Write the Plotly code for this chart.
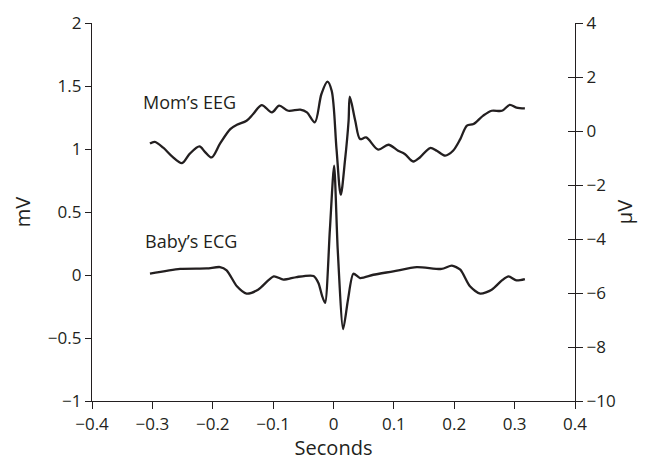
import plotly.graph_objects as go

# Time axis (seconds) and traces
eeg_t = [-0.304, -0.296, -0.282, -0.267, -0.251, -0.238, -0.222, -0.213, -0.202, -0.188,
         -0.171, -0.160, -0.144, -0.133, -0.119, -0.102, -0.090, -0.075, -0.055, -0.044,
         -0.031, -0.020, -0.010, -0.003, 0.005, 0.012, 0.019, 0.025, 0.027, 0.036,
         0.044, 0.054, 0.074, 0.091, 0.107, 0.118, 0.132, 0.143, 0.160, 0.171,
         0.185, 0.198, 0.210, 0.221, 0.232, 0.248, 0.262, 0.279, 0.292, 0.303, 0.317]
# Mom's EEG, microvolts (right axis)
eeg_uv = [-0.46, -0.40, -0.62, -0.95, -1.19, -0.84, -0.57, -0.77, -0.98, -0.47,
          0.07, 0.23, 0.38, 0.63, 0.96, 0.69, 0.94, 0.75, 0.79, 0.69,
          0.32, 1.37, 1.83, 1.49, -0.67, -2.36, -1.10, 0.38, 1.27, 0.38,
          -0.30, -0.24, -0.69, -0.51, -0.73, -0.85, -1.13, -0.98, -0.63, -0.73,
          -0.91, -0.73, -0.30, 0.20, 0.26, 0.57, 0.75, 0.75, 0.97, 0.87, 0.84]

ecg_t = [-0.304, -0.254, -0.210, -0.188, -0.177, -0.160, -0.144, -0.125, -0.099, -0.083,
         -0.061, -0.033, -0.025, -0.019, -0.014, -0.006, 0.001, 0.007, 0.016, 0.024,
         0.033, 0.044, 0.066, 0.099, 0.138, 0.179, 0.196, 0.210, 0.226, 0.243,
         0.262, 0.279, 0.290, 0.303, 0.317]
# Baby's ECG, millivolts (left axis)
ecg_mv = [0.010, 0.048, 0.052, 0.063, 0.037, -0.090, -0.148, -0.117, -0.011, -0.037,
          -0.016, -0.008, -0.063, -0.164, -0.222, 0.360, 0.867, 0.200, -0.429, -0.196,
          0.010, -0.024, 0.002, 0.029, 0.063, 0.048, 0.074, 0.042, -0.090, -0.148,
          -0.117, -0.043, -0.011, -0.043, -0.032]

x_ticks = [-0.4, -0.3, -0.2, -0.1, 0, 0.1, 0.2, 0.3, 0.4]
mv_ticks = [-1, -0.5, 0, 0.5, 1, 1.5, 2]
uv_ticks = [-10, -8, -6, -4, -2, 0, 2, 4]

INK = "#231f20"
FONT = "Open Sans"

fig = go.Figure()
fig.add_trace(go.Scatter(x=eeg_t, y=eeg_uv, yaxis="y2", mode="lines",
                         line=dict(color=INK, width=2.3, shape="spline", smoothing=0.9),
                         hoverinfo="skip", showlegend=False))
fig.add_trace(go.Scatter(x=ecg_t, y=ecg_mv, yaxis="y", mode="lines",
                         line=dict(color=INK, width=2.3, shape="spline", smoothing=0.7),
                         hoverinfo="skip", showlegend=False))
# carrier for the inward half of the right-hand ticks
fig.add_trace(go.Scatter(x=[None], y=[None], yaxis="y3", showlegend=False, hoverinfo="skip"))

fig.update_layout(
    width=657, height=461,
    margin=dict(l=92, r=82, t=23, b=60),
    paper_bgcolor="white", plot_bgcolor="white",
    font=dict(family=FONT, size=17, color=INK),
    xaxis=dict(range=[-0.4, 0.4], tickvals=x_ticks, ticks="outside", ticklen=7,
               tickcolor=INK, showline=True, linecolor=INK, linewidth=1.2,
               showgrid=False, zeroline=False, automargin=False,
               title=dict(text="Seconds", standoff=7)),
    yaxis=dict(range=[-1, 2], tickvals=mv_ticks, ticks="outside", ticklen=6,
               tickcolor=INK, showline=True, linecolor=INK, linewidth=1.2,
               showgrid=False, zeroline=False, automargin=False,
               title=dict(text="mV", standoff=11)),
    yaxis2=dict(range=[-10, 4], tickvals=uv_ticks, overlaying="y", side="right",
                anchor="x", ticks="outside", ticklen=7, tickcolor=INK,
                showline=True, linecolor=INK, linewidth=1.2,
                showgrid=False, zeroline=False, automargin=False,
                title=dict(text="µV", standoff=3)),
    yaxis3=dict(range=[-10, 4], tickvals=uv_ticks, overlaying="y", side="right",
                anchor="x", ticks="inside", ticklen=7, tickcolor=INK, automargin=False,
                showticklabels=False, showline=False, showgrid=False, zeroline=False),
    annotations=[
        dict(x=-0.158, y=1.37, xref="x", yref="y", text="Mom’s EEG", showarrow=False,
             xanchor="right", yanchor="middle", font=dict(size=18, color=INK)),
        dict(x=-0.316, y=0.27, xref="x", yref="y", text="Baby’s ECG", showarrow=False,
             xanchor="left", yanchor="middle", font=dict(size=18, color=INK)),
    ],
)

fig.write_html("out.html")
